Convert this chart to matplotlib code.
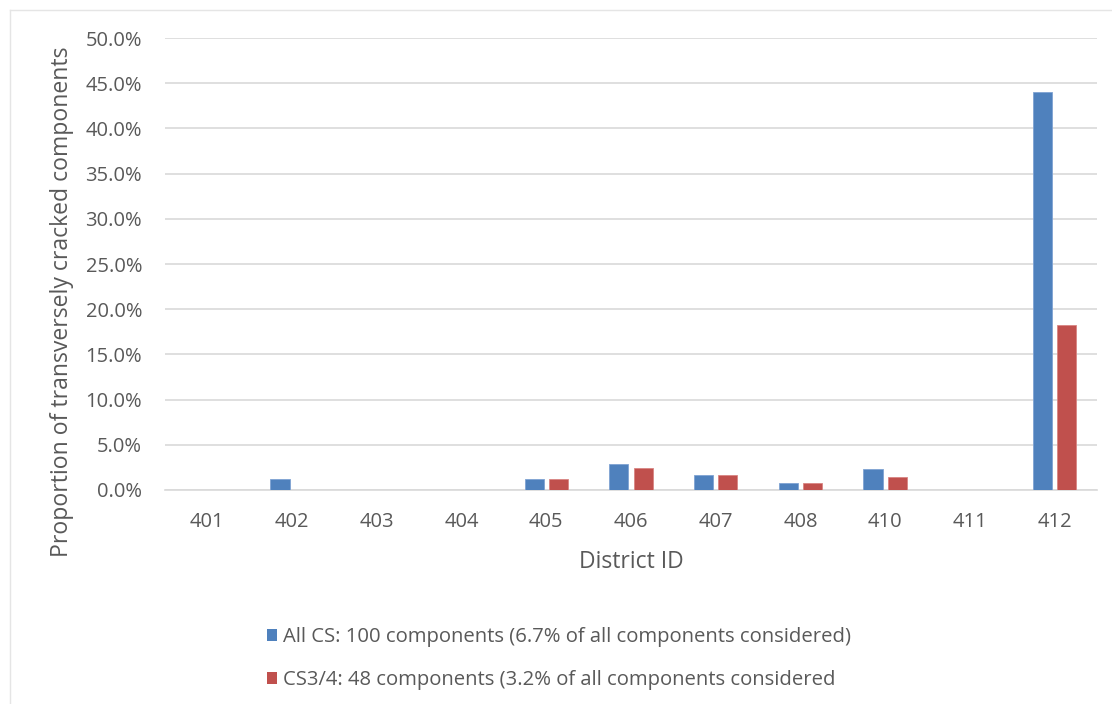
import numpy as np
import matplotlib.pyplot as plt
from matplotlib.patches import Patch
from matplotlib.lines import Line2D
from matplotlib.ticker import PercentFormatter

districts = ['401', '402', '403', '404', '405', '406', '407', '408', '410', '411', '412']
all_cs = [0.0, 1.2, 0.0, 0.0, 1.2, 2.9, 1.7, 0.8, 2.3, 0.0, 44.0]
cs34 = [0.0, 0.0, 0.0, 0.0, 1.2, 2.4, 1.7, 0.8, 1.4, 0.0, 18.3]
labels = ['All CS: 100 components (6.7% of all components considered)',
          'CS3/4: 48 components (3.2% of all components considered']

blue = '#4F81BD'
red = '#C0504D'
grey = '#595959'

plt.rcParams['font.family'] = ['Open Sans', 'DejaVu Sans']

fig = plt.figure(figsize=(11.12, 7.04), dpi=100)
ax = fig.add_axes([0.1484, 0.304, 0.838, 0.642])

x = np.arange(len(districts))
w = 0.225
ax.bar(x - 0.143, all_cs, w, color=blue, edgecolor='#7FA3D3', linewidth=0.6, zorder=3)
ax.bar(x + 0.143, cs34, w, color=red, edgecolor='#D98583', linewidth=0.6, zorder=3)

ax.set_xlim(-0.5, len(districts) - 0.5)
ax.set_ylim(0, 50)
ax.set_yticks(np.arange(0, 51, 5))
ax.yaxis.set_major_formatter(PercentFormatter(decimals=1))
ax.set_xticks(x)
ax.set_xticklabels(districts)
ax.grid(axis='y', color='#D9D9D9', linewidth=1.2, zorder=0)
ax.set_axisbelow(True)
for s in ['top', 'right', 'left']:
    ax.spines[s].set_visible(False)
ax.spines['bottom'].set_color('#D9D9D9')
ax.spines['bottom'].set_linewidth(1.2)
ax.tick_params(axis='both', length=0, labelsize=14.5, labelcolor=grey)
ax.tick_params(axis='y', pad=16.5)
ax.tick_params(axis='x', pad=16)

ax.set_xlabel('District ID', fontsize=16.5, color=grey, labelpad=13)
ax.set_ylabel('Proportion of transversely cracked components', fontsize=16.6,
              color=grey, labelpad=8)
# the y title sits lower than the plot centre
ax.yaxis.label.set_y(0.416)

handles = [Patch(facecolor=blue), Patch(facecolor=red)]
fig.legend(handles, labels, loc='upper left', bbox_to_anchor=(0.224, 0.135),
           frameon=False, fontsize=14.6, labelcolor=grey, handlelength=0.5,
           handleheight=0.5, handletextpad=0.25, labelspacing=1.13,
           bbox_transform=fig.transFigure)

# faint chart frame on the left and top
fig.add_artist(Line2D([10 / 1112, 10 / 1112], [0, 1 - 10 / 704], color='#E5E5E5',
                      linewidth=1, transform=fig.transFigure))
fig.add_artist(Line2D([10 / 1112, 1], [1 - 10 / 704, 1 - 10 / 704], color='#E5E5E5',
                      linewidth=1, transform=fig.transFigure))

fig.savefig('out.png', dpi=100)
